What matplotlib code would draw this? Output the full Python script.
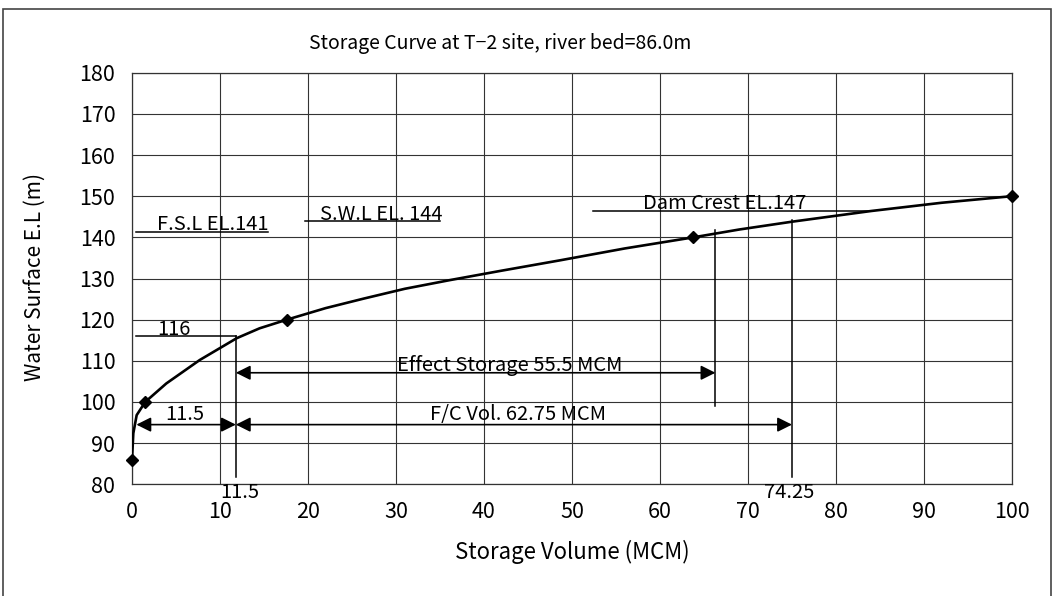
import matplotlib
matplotlib.use("Agg")
import matplotlib.pyplot as plt
from matplotlib.patches import Rectangle

# storage curve (volume MCM, elevation m)
curve_x = [0.0, 0.15, 0.53, 1.5, 3.9, 7.7, 11.9, 14.5, 17.6, 22.0, 26.3, 31.0, 36.1, 42.0, 48.6, 56.0, 63.8, 69.0, 75.0, 84.0, 92.0, 100.0]
curve_y = [86.0, 92.4, 96.8, 100.0, 104.5, 110.2, 115.5, 117.9, 120.0, 122.8, 125.1, 127.5, 129.6, 131.9, 134.4, 137.3, 140.0, 141.9, 143.8, 146.4, 148.4, 150.0]
marker_x = [0.0, 1.5, 17.6, 63.8, 100.0]
marker_y = [86.0, 100.0, 120.0, 140.0, 150.0]

x_ticks = [0, 10, 20, 30, 40, 50, 60, 70, 80, 90, 100]
y_ticks = [80, 90, 100, 110, 120, 130, 140, 150, 160, 170, 180]

# level marks: (x start, x end, y of line, label, label x, label baseline)
levels = [
    (0.45, 15.5, 141.4, "F.S.L EL.141", 9.2, 141.9),
    (19.7, 35.0, 144.0, "S.W.L EL. 144", 28.3, 144.3),
    (52.4, 83.9, 146.5, "Dam Crest EL.147", 67.3, 146.8),
    (0.45, 11.8, 116.0, "116", 4.8, 116.2),
]
# vertical guide lines: (x, y bottom, y top)
guides = [(11.8, 81.8, 116.0), (66.3, 99.0, 141.8), (75.0, 81.8, 144.2)]
# dimension arrows: (x from, x to, y, label, label x, label baseline)
arrows = [
    (0.5, 11.8, 94.5, "11.5", 6.0, 95.6),
    (11.8, 75.0, 94.5, "F/C Vol. 62.75 MCM", 43.9, 95.6),
    (11.8, 66.3, 107.1, "Effect Storage 55.5 MCM", 42.9, 107.5),
]
below_labels = [(12.3, "11.5"), (74.7, "74.25")]

font = ["Noto Sans CJK JP", "DejaVu Sans"]
plt.rcParams["font.family"] = font

fig = plt.figure(figsize=(10.55, 5.96), dpi=100)
ax = fig.add_axes([132 / 1055, 1 - 484.3 / 596, 880 / 1055, (484.3 - 72.7) / 596])

ax.plot(curve_x, curve_y, color="black", lw=1.9, solid_joinstyle="round", zorder=4)
ax.plot(marker_x, marker_y, "D", color="black", ms=6, zorder=5, clip_on=False)

for x0, x1, y, label, lx, ly in levels:
    ax.plot([x0, x1], [y, y], color="black", lw=1.1, zorder=3)
    ax.text(lx, ly, label, ha="center", va="baseline", fontsize=14.5)

for x, y0, y1 in guides:
    ax.plot([x, x], [y0, y1], color="black", lw=1.1, zorder=3)

for x0, x1, y, label, lx, ly in arrows:
    ax.annotate("", xy=(x1, y), xytext=(x0, y),
                arrowprops=dict(arrowstyle="<|-|>", color="black", lw=1.2,
                                mutation_scale=22, shrinkA=0, shrinkB=0), zorder=3)
    ax.text(lx, ly, label, ha="center", va="baseline", fontsize=14.5)

for x, label in below_labels:
    ax.text(x, 80.6, label, ha="center", va="top", fontsize=14.5, clip_on=False)

ax.set_xlim(0, 100)
ax.set_ylim(80, 180)
ax.set_xticks(x_ticks)
ax.set_yticks(y_ticks)
ax.tick_params(length=0, labelsize=15.5)
ax.tick_params(axis="x", pad=12)
ax.tick_params(axis="y", pad=12)
ax.grid(True, color="#333333", lw=0.8)
ax.set_axisbelow(True)
for s in ax.spines.values():
    s.set_color("#333333")
    s.set_linewidth(0.9)

fig.text(500 / 1055, 1 - 44 / 596, "Storage Curve at T\u22122 site, river bed=86.0m",
         ha="center", va="center", fontsize=14)
fig.text(572 / 1055, 1 - 552 / 596, "Storage Volume (MCM)",
         ha="center", va="center", fontsize=16)
fig.text(35 / 1055, 1 - 277 / 596, "Water Surface E.L (m)", rotation=90,
         ha="center", va="center", fontsize=15)

fig.patches.append(Rectangle((3 / 1055, -0.05), 1048 / 1055, 1.05 - 8.5 / 596,
                             transform=fig.transFigure, fill=False,
                             edgecolor="#444444", lw=1.2))

fig.savefig("out.png", dpi=100)
